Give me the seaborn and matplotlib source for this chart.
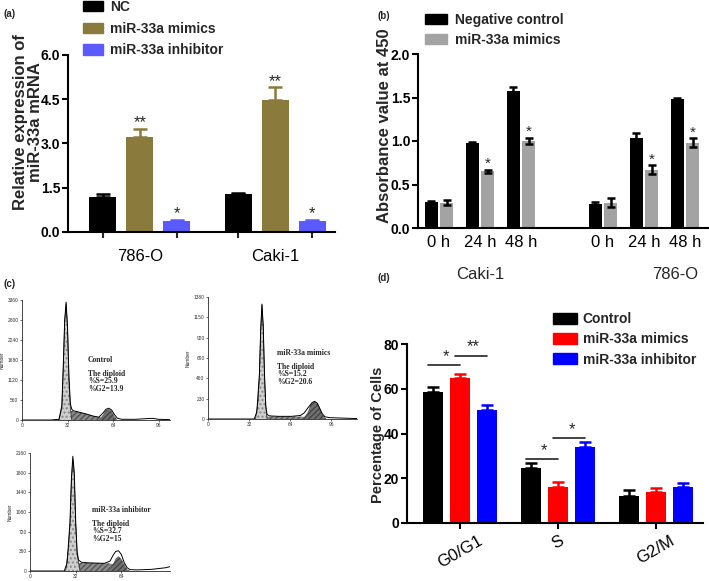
import matplotlib
matplotlib.use("Agg")
import matplotlib.pyplot as plt
import matplotlib.transforms as mtransforms
from matplotlib.patches import Patch
from matplotlib.container import BarContainer
import seaborn as sns
import pandas as pd

# (a) relative expression of miR-33a
a_lines = ["786-O", "Caki-1"]
a_groups = ["NC", "miR-33a mimics", "miR-33a inhibitor"]
a_nc = [1.20, 1.29]
a_mimics = [3.22, 4.47]
a_inhib = [0.37, 0.38]
a_nc_err = [0.10, 0.03]
a_mimics_err = [0.27, 0.43]
a_inhib_err = [0.04, 0.03]
a_stars = [["", ""], ["**", "**"], ["*", "*"]]

# (b) absorbance at 450
b_lines = ["Caki-1", "786-O"]
b_times = ["0 h", "24 h", "48 h"]
b_groups = ["Negative control", "miR-33a mimics"]
b_nc = [0.30, 0.98, 1.58, 0.28, 1.03, 1.48]
b_mimics = [0.29, 0.65, 1.00, 0.29, 0.67, 0.98]
b_nc_err = [0.01, 0.01, 0.04, 0.02, 0.06, 0.02]
b_mimics_err = [0.03, 0.02, 0.04, 0.05, 0.05, 0.05]
b_stars = ["", "*", "*", "", "*", "*"]

# (c) flow cytometry histograms (channel, count)
ctrl_ch = [0, 20, 26, 28, 29, 30, 31, 32, 33, 34, 35, 36, 40, 45, 50, 54, 57, 59, 61, 63, 65, 67, 70, 80, 88, 92, 96, 104]
ctrl_tot = [0, 0, 20, 400, 1500, 2800, 3300, 2600, 1200, 450, 300, 260, 220, 170, 110, 80, 200, 300, 330, 280, 150, 50, 20, 20, 40, 45, 20, 10]
ctrl_g1_ch = [26, 28, 29, 30, 31, 32, 33, 34, 35]
ctrl_g1 = [0, 350, 1450, 2750, 3250, 2550, 1100, 300, 0]
ctrl_s_ch = [28, 30, 32, 35, 40, 45, 50, 54, 58, 62, 65]
ctrl_s = [0, 150, 240, 255, 220, 170, 110, 80, 60, 30, 0]
ctrl_g2_ch = [54, 57, 59, 61, 63, 65, 67]
ctrl_g2 = [0, 150, 270, 310, 250, 100, 0]

mim_ch = [0, 36, 38, 40, 41, 42, 43, 44, 45, 46, 48, 55, 65, 72, 75, 78, 81, 83, 85, 87, 89, 91, 95, 105, 116]
mim_tot = [0, 0, 80, 500, 1000, 1300, 1050, 500, 150, 50, 35, 30, 30, 40, 70, 130, 185, 200, 180, 120, 60, 25, 15, 10, 5]
mim_g1_ch = [37, 39, 40, 41, 42, 43, 44, 45, 46]
mim_g1 = [0, 200, 480, 990, 1290, 1040, 480, 130, 0]
mim_s_ch = [40, 44, 50, 60, 70, 76, 82, 88]
mim_s = [0, 25, 28, 28, 27, 25, 15, 0]
mim_g2_ch = [74, 77, 80, 83, 86, 89, 92]
mim_g2 = [0, 60, 160, 200, 160, 50, 0]

inh_ch = [0, 24, 26, 28, 29, 30, 31, 32, 33, 34, 36, 40, 46, 52, 56, 58, 60, 62, 64, 66, 68, 70, 75, 85, 95, 98]
inh_tot = [0, 0, 150, 900, 1700, 2100, 1800, 900, 350, 200, 160, 150, 145, 140, 180, 280, 360, 370, 300, 150, 60, 25, 20, 30, 60, 80]
inh_g1_ch = [25, 27, 28, 29, 30, 31, 32, 33, 35]
inh_g1 = [0, 450, 850, 1650, 2050, 1750, 850, 300, 0]
inh_s_ch = [28, 30, 33, 40, 48, 55, 60, 64, 68]
inh_s = [0, 100, 145, 150, 145, 140, 120, 60, 0]
inh_g2_ch = [55, 58, 60, 62, 64, 66, 68, 70]
inh_g2 = [0, 120, 230, 270, 220, 120, 30, 0]

# (d) cell cycle distribution
d_phases = ["G0/G1", "S", "G2/M"]
d_groups = ["Control", "miR-33a mimics", "miR-33a inhibitor"]
d_control = [58.6, 24.4, 12.2]
d_mimics = [64.6, 16.2, 14.0]
d_inhib = [50.4, 34.1, 16.2]
d_control_err = [2.0, 2.2, 2.5]
d_mimics_err = [2.2, 2.2, 1.5]
d_inhib_err = [2.3, 2.2, 1.8]
d_comparisons = [("G0/G1", 0, 1, "*"), ("G0/G1", 1, 2, "**"), ("S", 0, 1, "*"), ("S", 1, 2, "*")]

sns.set_style("ticks")
plt.rcParams["font.family"] = ["Liberation Sans", "DejaVu Sans"]

W, H = 709, 581
fig = plt.figure(figsize=(W / 100, H / 100), dpi=100)


def add_ax(x0, y0, x1, y1):
    return fig.add_axes([x0 / W, 1 - y1 / H, (x1 - x0) / W, (y1 - y0) / H])


def style_axes(ax, lw=1.5):
    sns.despine(ax=ax)
    for s in ["left", "bottom"]:
        ax.spines[s].set_linewidth(lw)
        ax.spines[s].set_color("black")
    ax.tick_params(width=lw, length=4, pad=1.5, colors="black")


def draw_bars(ax, df, order, hue_order, colors, width, gap, err_colors, both=False, capsize=4):
    sns.barplot(data=df, x="cat", y="value", hue="group", order=order, hue_order=hue_order,
                palette=colors, width=width, gap=gap, errorbar=None, saturation=1,
                legend=False, linewidth=0, ax=ax)
    bar_conts = [c for c in ax.containers if isinstance(c, BarContainer)]
    tops = {}
    for hi, cont in enumerate(bar_conts):
        grp = hue_order[hi]
        for bar in cont:
            cx = bar.get_x() + bar.get_width() / 2
            cat = order[int(round(cx))]
            row = df[(df["cat"] == cat) & (df["group"] == grp)].iloc[0]
            low = row["err"] if both else 0
            ax.errorbar(cx, row["value"], yerr=[[low], [row["err"]]], fmt="none",
                        ecolor=err_colors[hi], elinewidth=1.8, capsize=capsize, capthick=1.8)
            tops[(cat, grp)] = (cx, row["value"] + row["err"])
    return tops


# ---------- (a)
rows = []
for g, vals, errs in zip(a_groups, [a_nc, a_mimics, a_inhib], [a_nc_err, a_mimics_err, a_inhib_err]):
    for ln, v, e in zip(a_lines, vals, errs):
        rows.append({"cat": ln, "group": g, "value": v, "err": e})
df_a = pd.DataFrame(rows)
a_colors = ["#000000", "#8a7a3c", "#5a5aff"]

ax = add_ax(68, 55, 335, 232)
tops = draw_bars(ax, df_a, a_lines, a_groups, a_colors, 0.82, 0.27, a_colors, capsize=5.2)
for gi, g in enumerate(a_groups):
    for li, ln in enumerate(a_lines):
        if a_stars[gi][li]:
            cx, top = tops[(ln, g)]
            ax.annotate(a_stars[gi][li], (cx, top), xytext=(0, -1), textcoords="offset points",
                        ha="center", va="bottom", fontsize=12)
ax.set_ylim(0, 6)
ax.set_xlim(-0.53, 1.44)
ax.set_yticks([0, 1.5, 3.0, 4.5, 6.0], ["0.0", "1.5", "3.0", "4.5", "6.0"], fontsize=10, fontweight="bold")
ax.set_xticks([0, 1], a_lines, fontsize=12)
ax.set_xticks([b[0] for b in tops.values()], minor=True)
style_axes(ax)
ax.tick_params(axis="x", which="major", length=0, pad=12)
ax.tick_params(axis="x", which="minor", length=4, width=1.5)
ax.set_xlabel("")
ax.set_ylabel("Relative expression of\nmiR-33a mRNA", fontsize=12, fontweight="bold", linespacing=1.0)
ax.yaxis.set_label_coords(-0.095, 0.62)
fig.legend(handles=[Patch(color=c, label=g) for c, g in zip(a_colors, a_groups)],
           loc="upper left", bbox_to_anchor=(83 / W, 1 - 0 / H), frameon=False,
           prop={"weight": "bold", "size": 10}, handlelength=1.45, handleheight=0.75,
           handletextpad=0.5, labelspacing=0.55, borderpad=0, borderaxespad=0)

# ---------- (b)
b_order = [f"{ln} {t}" for ln in b_lines[:1] for t in b_times] + [" "] + \
          [f"{ln} {t}" for ln in b_lines[1:] for t in b_times]
rows = []
for g, vals, errs in zip(b_groups, [b_nc, b_mimics], [b_nc_err, b_mimics_err]):
    i = 0
    for ln in b_lines:
        for t in b_times:
            rows.append({"cat": f"{ln} {t}", "group": g, "value": vals[i], "err": errs[i]})
            i += 1
df_b = pd.DataFrame(rows)
b_colors = ["#000000", "#a3a3a3"]

ax = add_ax(418, 54, 708, 228)
tops = draw_bars(ax, df_b, b_order, b_groups, b_colors, 0.76, 0.16, ["black", "black"],
                 both=True, capsize=2.8)
i = 0
for ln in b_lines:
    for t in b_times:
        if b_stars[i]:
            cx, top = tops[(f"{ln} {t}", b_groups[1])]
            ax.annotate(b_stars[i], (cx, top), xytext=(0, -1), textcoords="offset points",
                        ha="center", va="bottom", fontsize=11)
        i += 1
ax.set_ylim(0, 2)
ax.set_xlim(-0.51, 6.56)
ax.set_yticks([0, 0.5, 1.0, 1.5, 2.0], ["0.0", "0.5", "1.0", "1.5", "2.0"], fontsize=10, fontweight="bold")
ax.set_xticks(range(len(b_order)), [c.split(" ", 1)[1] if c.strip() else "" for c in b_order], fontsize=12)
style_axes(ax)
ax.tick_params(axis="x", length=0, pad=5)
ax.set_xlabel("")
ax.set_ylabel("Absorbance value at 450", fontsize=12, fontweight="bold")
ax.yaxis.set_label_coords(-0.09, 0.59)
trans = mtransforms.blended_transform_factory(ax.transData, ax.transAxes)
ax.text(1, -0.27, b_lines[0], transform=trans, ha="center", va="center", fontsize=12)
ax.text(5.75, -0.27, b_lines[1], transform=trans, ha="center", va="center", fontsize=12)
fig.legend(handles=[Patch(color=c, label=g) for c, g in zip(b_colors, b_groups)],
           loc="upper left", bbox_to_anchor=(425 / W, 1 - 13 / H), frameon=False,
           prop={"weight": "bold", "size": 10}, handlelength=1.55, handleheight=0.75,
           handletextpad=0.6, labelspacing=0.45, borderpad=0, borderaxespad=0)

# ---------- (c)
hist_sets = [
    ((22, 300, 170, 420), 104, [0, 560, 1120, 1680, 2240, 2800, 3360], [0, 32, 64, 96],
     (ctrl_ch, ctrl_tot), (ctrl_g1_ch, ctrl_g1), (ctrl_s_ch, ctrl_s), (ctrl_g2_ch, ctrl_g2),
     ("Control", "The diploid", "%S=25.9", "%G2=13.9"), (88, 360)),
    ((208, 297, 357, 419), 116, [0, 230, 460, 690, 920, 1150, 1380], [0, 32, 64, 96],
     (mim_ch, mim_tot), (mim_g1_ch, mim_g1), (mim_s_ch, mim_s), (mim_g2_ch, mim_g2),
     ("miR-33a mimics", "The diploid", "%S=15.2", "%G2=20.6"), (277, 353)),
    ((30, 453, 170, 571), 98, [0, 360, 720, 1080, 1440, 1800, 2160], [0, 32, 64],
     (inh_ch, inh_tot), (inh_g1_ch, inh_g1), (inh_s_ch, inh_s), (inh_g2_ch, inh_g2),
     ("miR-33a inhibitor", "The diploid", "%S=32.7", "%G2=15"), (92, 510)),
]
for box, xmax, yt, xt, tot, g1, s, g2, texts, tpos in hist_sets:
    axc = add_ax(*box)
    axc.fill_between(s[0], s[1], color="#8a8a8a", hatch="//////", edgecolor="#555555", linewidth=0)
    axc.fill_between(g1[0], g1[1], color="#cfcfcf", hatch="....", edgecolor="#888888", linewidth=0)
    axc.fill_between(g2[0], g2[1], color="#6f6f6f", hatch="//////", edgecolor="#444444", linewidth=0)
    sns.lineplot(x=g1[0], y=g1[1], color="#222222", lw=0.5, ax=axc)
    sns.lineplot(x=tot[0], y=tot[1], color="black", lw=0.7, ax=axc)
    axc.set_xlim(0, xmax)
    axc.set_ylim(0, yt[-1])
    axc.set_yticks(yt, [str(v) for v in yt], fontsize=3.5)
    axc.set_xticks(xt, [str(v) for v in xt], fontsize=3.5)
    sns.despine(ax=axc)
    for sp in ["left", "bottom"]:
        axc.spines[sp].set_linewidth(0.6)
    axc.tick_params(length=1.5, width=0.5, pad=1, colors="#333333")
    axc.set_ylabel("Number", fontsize=3.5, labelpad=2)
    axc.set_facecolor("none")
    fig.text(tpos[0] / W, 1 - tpos[1] / H, texts[0], family="Liberation Serif", fontweight="bold",
             fontsize=5.5, va="center")
    fig.text(tpos[0] / W, 1 - (tpos[1] + 10) / H, "\n".join(texts[1:]), family="Liberation Serif",
             fontweight="bold", fontsize=5.5, va="top", linespacing=0.9)

# ---------- (d)
rows = []
for g, vals, errs in zip(d_groups, [d_control, d_mimics, d_inhib], [d_control_err, d_mimics_err, d_inhib_err]):
    for p, v, e in zip(d_phases, vals, errs):
        rows.append({"cat": p, "group": g, "value": v, "err": e})
df_d = pd.DataFrame(rows)
d_colors = ["#000000", "#ff0000", "#0000ff"]

ax = add_ax(407, 344, 703, 523)
tops = draw_bars(ax, df_d, d_phases, d_groups, d_colors, 0.83, 0.26, d_colors, capsize=4.2)
sig_levels = {("G0/G1", 0): 70.5, ("G0/G1", 1): 74.7, ("S", 0): 28.5, ("S", 1): 37.9}
for ph, i, j, lab in d_comparisons:
    x0 = tops[(ph, d_groups[i])][0]
    x1 = tops[(ph, d_groups[j])][0]
    yv = sig_levels[(ph, i)]
    ax.plot([x0 - 0.05, x1], [yv, yv], color="#222222", lw=1.2, clip_on=False)
    ax.annotate(lab, ((x0 + x1) / 2, yv), xytext=(0, 1), textcoords="offset points",
                ha="center", va="bottom", fontsize=12, annotation_clip=False)
ax.set_ylim(0, 80)
ax.set_xlim(-0.54, 2.48)
ax.set_yticks([0, 20, 40, 60, 80], ["0", "20", "40", "60", "80"], fontsize=10, fontweight="bold")
ax.set_xticks(range(3), d_phases, fontsize=12, rotation=30)
style_axes(ax)
ax.tick_params(axis="x", length=4, pad=3)
ax.set_xlabel("")
ax.set_ylabel("Percentage of Cells", fontsize=10.5, fontweight="bold")
ax.yaxis.set_label_coords(-0.075, 0.49)
fig.legend(handles=[Patch(color=c, label=g) for c, g in zip(d_colors, d_groups)],
           loc="upper left", bbox_to_anchor=(553 / W, 1 - 312 / H), frameon=False,
           prop={"weight": "bold", "size": 10}, handlelength=1.75, handleheight=0.85,
           handletextpad=0.4, labelspacing=0.45, borderpad=0, borderaxespad=0)

# panel letters
for lab, (px, py) in {"(a)": (3, 14), "(b)": (378, 16), "(c)": (3, 284), "(d)": (378, 278)}.items():
    fig.text(px / W, 1 - py / H, lab, fontsize=7, fontweight="bold", va="center")

fig.savefig("out.png", dpi=100)
